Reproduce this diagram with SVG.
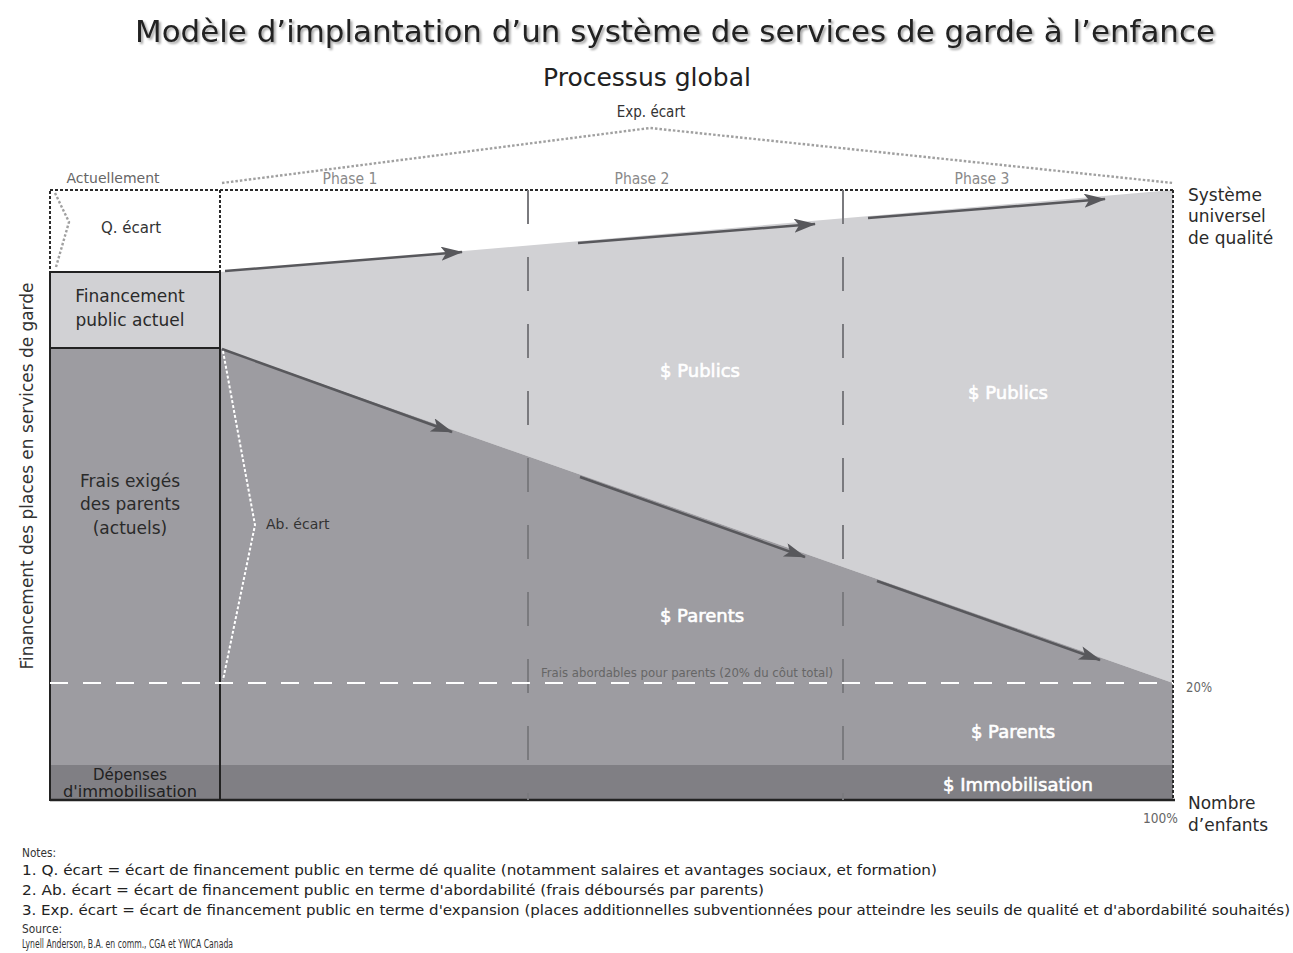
<svg xmlns="http://www.w3.org/2000/svg" width="1293" height="953" viewBox="0 0 1293 953">
<defs>
<style>
text{font-family:"DejaVu Sans","Liberation Sans",sans-serif;}
.c{font-family:"Liberation Sans Narrow","DejaVu Sans Condensed","Arial Narrow","Liberation Sans",sans-serif;font-stretch:condensed;}
.mid{text-anchor:middle;}
.lbl{font-size:17px;fill:#2a2a2a;}
.wht{font-size:18px;fill:#ffffff;stroke:#ffffff;stroke-width:0.6;text-anchor:middle;}
.phase{font-size:15px;fill:#8a8a8a;text-anchor:middle;}
.arrow{stroke:#58585c;stroke-width:2.5;fill:none;marker-end:url(#ah);}
.div{stroke:#7a7a7e;stroke-width:2;stroke-dasharray:34 33;}
.dot{stroke:#2a2a2a;stroke-width:2;stroke-dasharray:3 2;fill:none;}
.gdot{stroke:#a0a0a0;stroke-width:2.4;stroke-dasharray:2.5 2;fill:none;}
.note{font-size:13.5px;fill:#222;}
.small{font-size:12px;fill:#333;}
</style>
<marker id="ah" markerUnits="userSpaceOnUse" markerWidth="26" markerHeight="16" refX="21" refY="7" orient="auto">
<path d="M0,0 L22,7 L0,14 L5,7 Z" fill="#58585c"/>
</marker>
<filter id="sh" x="-5%" y="-30%" width="110%" height="160%">
<feDropShadow dx="2" dy="2" stdDeviation="1.2" flood-color="#000" flood-opacity="0.35"/>
</filter>
</defs>
<rect x="0" y="0" width="1293" height="953" fill="#ffffff"/>

<g id="title">
<text x="135" y="42" font-size="31" fill="#222" textLength="1080" lengthAdjust="spacingAndGlyphs" filter="url(#sh)">Modèle d’implantation d’un système de services de garde à l’enfance</text>
<text x="543" y="86" font-size="25" fill="#222" textLength="208" lengthAdjust="spacingAndGlyphs">Processus global</text>
</g>

<g id="areas">
<polygon points="220,272 1173,190 1173,683 220,348" fill="#d1d1d4"/>
<polygon points="220,348 1173,683 1173,765 220,765" fill="#9d9ca1"/>
<rect x="220" y="765" width="953" height="35" fill="#807f84"/>
</g>

<g id="col-qecart">
<rect x="50" y="190" width="170" height="82" class="dot"/>
<polyline points="55,193 69,222 56,267" class="gdot"/>
<text x="131" y="233" class="mid" font-size="15" fill="#333">Q. écart</text>
</g>

<g id="col-public">
<rect x="50" y="272" width="170" height="76" fill="#d1d1d4"/>
<text x="130" y="302" class="lbl mid">Financement</text>
<text x="130" y="326" class="lbl mid">public actuel</text>
</g>

<g id="col-parents">
<rect x="50" y="348" width="170" height="417" fill="#9d9ca1"/>
<text x="130" y="487" class="lbl mid">Frais exigés</text>
<text x="130" y="510" class="lbl mid">des parents</text>
<text x="130" y="534" class="lbl mid">(actuels)</text>
</g>

<g id="col-depenses">
<rect x="50" y="765" width="170" height="35" fill="#807f84"/>
<text x="130" y="780" class="mid" font-size="15" fill="#222">Dépenses</text>
<text x="130" y="797" class="mid" font-size="15" fill="#222" textLength="134" lengthAdjust="spacingAndGlyphs">d'immobilisation</text>
</g>

<g id="frame">
<rect x="50" y="272" width="170" height="528" fill="none" stroke="#222" stroke-width="2"/>
<line x1="50" y1="348" x2="220" y2="348" stroke="#222" stroke-width="2"/>
<line x1="220" y1="190" x2="1173" y2="190" class="dot"/>
<line x1="1173" y1="190" x2="1173" y2="800" class="dot"/>
<line x1="50" y1="800" x2="1175" y2="800" stroke="#222" stroke-width="2.5"/>
<line x1="528" y1="190" x2="528" y2="800" class="div"/>
<line x1="843" y1="190" x2="843" y2="800" class="div"/>
<line x1="50" y1="683" x2="1173" y2="683" stroke="#ffffff" stroke-width="2" stroke-dasharray="18 15"/>
</g>

<g id="expecart">
<polyline points="222,183 650,128 1173,183" class="gdot"/>
<text x="651" y="117" class="c mid" font-size="15" fill="#333">Exp. écart</text>
</g>

<g id="headers">
<text x="113" y="183" class="mid" font-size="14" fill="#666">Actuellement</text>
<text x="350" y="184" class="c phase" textLength="55" lengthAdjust="spacingAndGlyphs">Phase 1</text>
<text x="642" y="184" class="c phase" textLength="55" lengthAdjust="spacingAndGlyphs">Phase 2</text>
<text x="982" y="184" class="c phase" textLength="55" lengthAdjust="spacingAndGlyphs">Phase 3</text>
</g>

<g id="connectors">
<line x1="225" y1="271" x2="462" y2="252" class="arrow"/>
<line x1="578" y1="243" x2="815" y2="224" class="arrow"/>
<line x1="868" y1="218" x2="1105" y2="199" class="arrow"/>
<line x1="222" y1="349" x2="452" y2="432" class="arrow"/>
<line x1="580" y1="477" x2="805" y2="557" class="arrow"/>
<line x1="877" y1="581" x2="1100" y2="660" class="arrow"/>
</g>

<g id="abecart">
<polyline points="223,351 255,525 223,680" fill="none" stroke="#ffffff" stroke-width="2" stroke-dasharray="3 2"/>
<text x="266" y="529" font-size="14" fill="#333">Ab. écart</text>
</g>

<g id="region-labels">
<text x="700" y="377" class="wht">$ Publics</text>
<text x="1008" y="399" class="wht">$ Publics</text>
<text x="702" y="622" class="wht">$ Parents</text>
<text x="1013" y="738" class="wht">$ Parents</text>
<text x="1018" y="791" class="wht">$ Immobilisation</text>
<text x="687" y="677" class="c mid" font-size="12" fill="#666" textLength="292" lengthAdjust="spacingAndGlyphs">Frais abordables pour parents (20% du côut total)</text>
</g>

<g id="axis-labels">
<text transform="translate(33,476) rotate(-90)" class="mid" font-size="17" fill="#333" textLength="387" lengthAdjust="spacingAndGlyphs">Financement des places en services de garde</text>
<text x="1188" y="201" class="lbl">Système</text>
<text x="1188" y="222" class="lbl">universel</text>
<text x="1188" y="244" class="lbl">de qualité</text>
<text x="1186" y="692" class="c" font-size="14" fill="#666" textLength="26" lengthAdjust="spacingAndGlyphs">20%</text>
<text x="1143" y="823" class="c" font-size="14" fill="#666" textLength="35" lengthAdjust="spacingAndGlyphs">100%</text>
<text x="1188" y="809" class="lbl">Nombre</text>
<text x="1188" y="831" class="lbl">d’enfants</text>
</g>

<g id="notes">
<text x="22" y="857" class="c small" textLength="34" lengthAdjust="spacingAndGlyphs">Notes:</text>
<text x="22" y="875" class="note" textLength="915" lengthAdjust="spacingAndGlyphs">1. Q. écart = écart de financement public en terme dé qualite (notamment salaires et avantages sociaux, et formation)</text>
<text x="22" y="895" class="note" textLength="742" lengthAdjust="spacingAndGlyphs">2. Ab. écart = écart de financement public en terme d'abordabilité (frais déboursés par parents)</text>
<text x="22" y="915" class="note" textLength="1268" lengthAdjust="spacingAndGlyphs">3. Exp. écart = écart de financement public en terme d'expansion (places additionnelles subventionnées pour atteindre les seuils de qualité et d'abordabilité souhaités)</text>
<text x="22" y="933" class="c small" textLength="40" lengthAdjust="spacingAndGlyphs">Source:</text>
<text x="22" y="948" class="c small" textLength="211" lengthAdjust="spacingAndGlyphs">Lynell Anderson, B.A. en comm., CGA et YWCA Canada</text>
</g>
</svg>
